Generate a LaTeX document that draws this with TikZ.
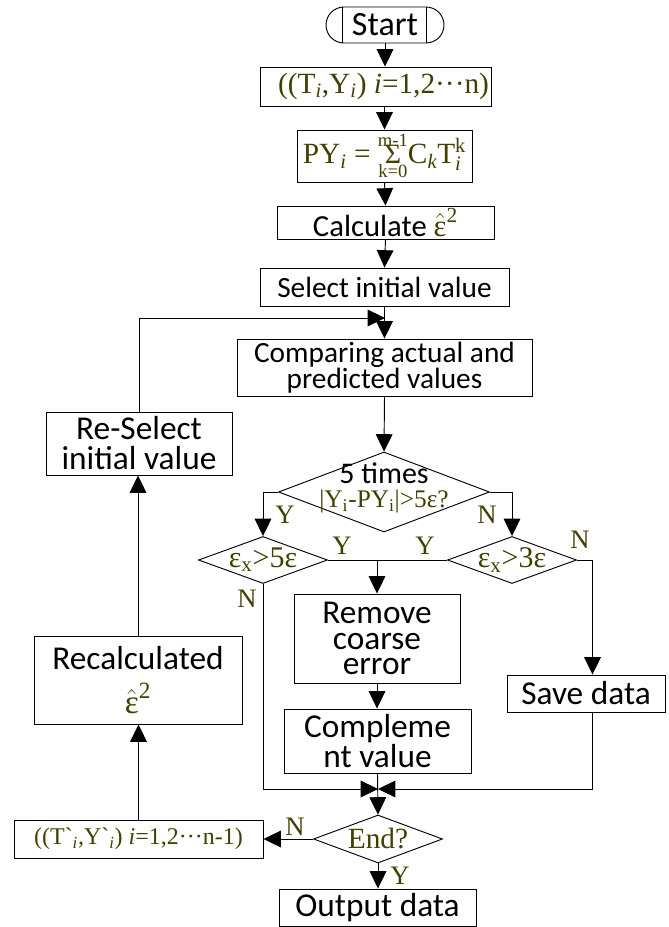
\documentclass[tikz,border=0pt]{standalone}
\usepackage{fontspec}
\usepackage{amsmath}
\setmainfont{Carlito}
\newfontfamily\tms{Liberation Serif}
\usetikzlibrary{arrows.meta,shapes.geometric,calc}
\definecolor{ol}{RGB}{64,64,0}
\newcommand\mkbox[7][]{\node[box,#1, minimum width={(#5-#3)*0.75pt}, minimum height={(#6-#4)*0.75pt}] (#2) at ({(#3+#5)/2},{(#4+#6)/2}) {#7};}
\newcommand\ehat{{\tms\color{ol}$\hat{\text{ε}}^{\text{2}}$}}
\newcommand\sumst{{\fontsize{14}{14}\selectfont\ooalign{\hfil\raisebox{0.95em}{m-1}\hfil\cr\hfil{\fontsize{21}{21}\selectfont Σ}\hfil\cr\hfil\raisebox{-0.75em}{k=0}\hfil\cr}}}
\begin{document}
\begin{tikzpicture}[x=0.75pt,y=-0.75pt,
  box/.style={draw, line width=0.7pt, inner sep=0pt, align=center, font=\fontsize{22}{18}\selectfont},
  big/.style={font=\fontsize{25}{19}\selectfont},
  dia/.style={draw, shape=diamond, inner sep=0pt, line width=0.7pt},
  arr/.style={line width=0.7pt, -{Triangle[length=13pt,width=12.5pt]}},
  ln/.style={line width=0.7pt},
  lab/.style={text=ol, font=\tms\fontsize{20}{20}\selectfont, inner sep=0pt},
  dtxt/.style={align=center, inner sep=0pt, font=\fontsize{22.5}{18}\selectfont}]
\useasboundingbox (0,0) rectangle (668,927);
% start terminal
\mkbox[rounded corners=13.5pt, font=\fontsize{25.5}{20}\selectfont]{start}{326}{7}{444}{43}{Start}
\draw[ln] ($(start.north west)+(17,0)$) -- ($(start.south west)+(17,0)$);
\draw[ln] ($(start.north east)+(-18,0)$) -- ($(start.south east)+(-18,0)$);
% boxes
\mkbox{b1}{260}{67}{491}{106}{\hspace*{12pt}{\tms\color{ol}((T\textsubscript{\itshape i},Y\textsubscript{\itshape i}) \textit{i}=1,2···n)}}
\mkbox{b2}{297}{130}{472}{182}{{\tms\color{ol}PY\textsubscript{\itshape i} = \sumst C\textsubscript{\itshape k}$\text{T}_{\text{\itshape i}}^{\text{k}}$}}
\mkbox[font=\fontsize{23}{18}\selectfont]{b3}{277}{206}{494}{239}{Calculate \ehat}
\mkbox{sel}{260}{268}{509}{306}{Select initial value}
\mkbox{cmp}{237}{339}{532}{396}{Comparing actual and\\[-1pt]predicted values}
\mkbox[font=\fontsize{25}{22.5}\selectfont]{resel}{46}{412}{232}{475}{Re-Select\\initial value}
\mkbox[big]{remove}{294}{594}{460}{683}{Remove\\coarse\\error}
\mkbox[font=\fontsize{25}{22}\selectfont]{comp}{284}{709}{471}{773}{Compleme\\nt value}
\mkbox[big]{save}{507}{675}{665}{712}{Save data}
\mkbox[big]{recalc}{34}{636}{242}{724}{Recalculated\\[9pt]\ehat}
\mkbox{tbox}{14}{820}{263}{858}{{\tms\color{ol}\fontsize{18}{18}\selectfont((T`\textsubscript{\itshape i},Y`\textsubscript{\itshape i}) \textit{i}=1,2···n-1)}}
\mkbox[big]{out}{279}{889}{476}{926}{Output data}
% diamonds
\node[dia, minimum width=158.25pt, minimum height=60pt] (d1) at (384,492) {};
\node[dtxt] (d1t) at (384,488) {5 times\\{\tms\color{ol}\fontsize{19}{18}\selectfont |Y\textsubscript{i}-PY\textsubscript{i}|>5ε?}};
\node[dia, minimum width=96.75pt, minimum height=35.25pt] (d2) at (263,560) {};
\node[dtxt] (d2t) at (263,560) {{\tms\color{ol}\fontsize{22.5}{18}\selectfont ε\textsubscript{x}>5ε}};
\node[dia, minimum width=96.75pt, minimum height=35.25pt] (d3) at (512,560) {};
\node[dtxt] (d3t) at (512,560) {{\tms\color{ol}\fontsize{22.5}{18}\selectfont ε\textsubscript{x}>3ε}};
\node[dia, minimum width=96.75pt, minimum height=36pt] (end) at (378,839) {};
\node[dtxt] (endt) at (378,839) {{\tms\color{ol}\fontsize{22}{18}\selectfont End?}};
% coordinates
\coordinate (rx) at (592.5,560);
\coordinate (m) at (378,789);
\coordinate (lp) at (385,318);
% connectors
\draw[arr] (start.south) -- (start.south |- b1.north);
\draw[arr] (b2.north |- b1.south) -- (b2.north);
\draw[arr] (b2.south) -- (b3.north);
\draw[arr] (b3.south) -- (sel.north);
\draw[arr] (sel.south) -- (cmp.north);
\draw[arr] (cmp.south) -- (d1.north);
\draw[arr] (d1.west) -| (d2.north);
\draw[arr] (d1.east) -| (d3.north);
\draw[ln] (d2.east) -- (d3.west);
\draw[arr] (remove.north |- d2.east) -- (remove.north);
\draw[arr] (d3.east) -| (rx |- save.north);
\draw[arr] (remove.south) -- (remove.south |- comp.north);
\draw[arr] (d2.south) |- (m);
\draw[arr] (save.south -| rx) |- (m);
\draw[arr] (comp.south) -- (end.north);
\draw[arr] (end.west) -- (tbox.east);
\draw[arr] (end.south) -- (end.south |- out.north);
\draw[arr] (tbox.north) -- (tbox.north |- recalc.south);
\draw[arr] (recalc.north) -- (recalc.north |- resel.south);
\draw[arr] (resel.north) |- (lp);
% labels
\node[lab] (y1) at (285,515) {Y};
\node[lab] (n1) at (487,515) {N};
\node[lab] (y2) at (342,546) {Y};
\node[lab] (y3) at (425,546) {Y};
\node[lab] (n2) at (580,540) {N};
\node[lab] (n3) at (247,599) {N};
\node[lab] (n4) at (295,827) {N};
\node[lab] (y4) at (400,876) {Y};
\end{tikzpicture}
\end{document}
